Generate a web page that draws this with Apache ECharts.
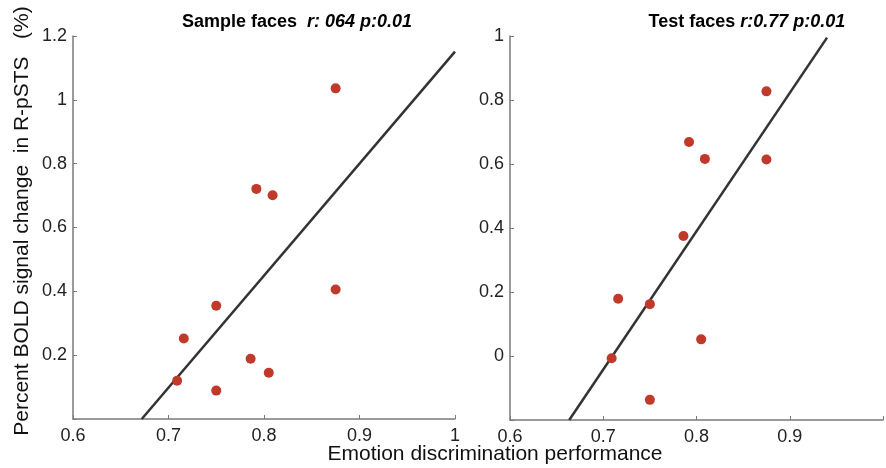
<!DOCTYPE html>
<html>
<head>
<meta charset="utf-8">
<script src="https://cdn.jsdelivr.net/npm/echarts@6/dist/echarts.min.js"></script>
<style>html,body{margin:0;padding:0;background:#fff}#c{width:886px;height:468px}</style>
</head>
<body>
<div id="c"></div>
<script>
// Shared performance values (x)
var perf = [0.709, 0.716, 0.750, 0.750, 0.786, 0.792, 0.805, 0.809, 0.875, 0.875];
// Sample faces BOLD change (left panel)
var sampleBold = [0.12, 0.252, 0.355, 0.089, 0.189, 0.721, 0.145, 0.701, 1.036, 0.406];
// Test faces BOLD change (right panel)
var testBold = [-0.007, 0.179, 0.162, -0.137, 0.375, 0.669, 0.052, 0.616, 0.827, 0.614];
// Regression line endpoints
var sampleFit = [[0.672, 0], [1.0, 1.151]];
var testFit = [[0.6635, -0.2], [0.94, 0.995]];
// Tick settings
var xTicks = {min: 0.6, max: 1.0, interval: 0.1};
var leftY = {min: 0, max: 1.2, interval: 0.2};
var rightY = {min: -0.2, max: 1.0, interval: 0.2};
var titles = {
  left: ['Sample faces  ', 'r: 064 p:0.01'],
  right: ['Test faces ', 'r:0.77 p:0.01']
};
var yName = 'Percent BOLD signal change  in R-pSTS   (%)';
var xName = 'Emotion discrimination performance';

var FONT = 'Liberation Sans, Arial, sans-serif';
function pts(xs, ys) { return xs.map(function (x, i) { return [x, ys[i]]; }); }
var axisLine = {show: true, onZero: false, lineStyle: {color: '#7a7a7a', width: 1.5}};
var axisTick = {show: true, inside: true, length: 4, lineStyle: {color: '#7a7a7a', width: 1}};
function xAxis(idx, hideMax) {
  return {type: 'value', gridIndex: idx, min: xTicks.min, max: xTicks.max, interval: xTicks.interval,
    axisLine: axisLine, axisTick: axisTick, splitLine: {show: false},
    axisLabel: {color: '#222', fontSize: 18, fontFamily: FONT, margin: 8,
      formatter: function (v) { if (hideMax && Math.abs(v - xTicks.max) < 1e-9) return ''; return String(+v.toFixed(2)); }}};
}
function yAxis(idx, cfg) {
  return {type: 'value', gridIndex: idx, min: cfg.min, max: cfg.max, interval: cfg.interval,
    axisLine: axisLine, axisTick: axisTick, splitLine: {show: false},
    axisLabel: {color: '#222', fontSize: 18, fontFamily: FONT, margin: 6,
      formatter: function (v) { if (Math.abs(v - cfg.min) < 1e-9) return ''; return String(+v.toFixed(2)); }}};
}
var rich = {
  b: {fontWeight: 'bold', fontSize: 18, fontFamily: FONT, color: '#111'},
  i: {fontWeight: 'bold', fontStyle: 'italic', fontSize: 18, fontFamily: FONT, color: '#111'}
};
var chart = echarts.init(document.getElementById('c'), null, {renderer: 'canvas'});
chart.setOption({
  animation: false,
  backgroundColor: '#fff',
  grid: [
    {left: 73, top: 36, width: 382, height: 383},
    {left: 510, top: 36, width: 380, height: 384}
  ],
  xAxis: [xAxis(0, false), xAxis(1, true)],
  yAxis: [yAxis(0, leftY), yAxis(1, rightY)],
  series: [
    {type: 'line', xAxisIndex: 0, yAxisIndex: 0, data: sampleFit, showSymbol: false, symbol: 'none',
      lineStyle: {color: '#333', width: 2.5}, clip: true, z: 2},
    {type: 'scatter', xAxisIndex: 0, yAxisIndex: 0, data: pts(perf, sampleBold), symbolSize: 10,
      itemStyle: {color: '#c0392b', opacity: 1}, z: 3},
    {type: 'line', xAxisIndex: 1, yAxisIndex: 1, data: testFit, showSymbol: false, symbol: 'none',
      lineStyle: {color: '#333', width: 2.5}, clip: true, z: 2},
    {type: 'scatter', xAxisIndex: 1, yAxisIndex: 1, data: pts(perf, testBold), symbolSize: 10,
      itemStyle: {color: '#c0392b', opacity: 1}, z: 3}
  ],
  graphic: [
    {type: 'text', x: 297, y: 22, style: {text: '{b|' + titles.left[0] + '}{i|' + titles.left[1] + '}', rich: rich,
      fontSize: 18, fontWeight: 'bold', fontFamily: FONT, textAlign: 'center', textVerticalAlign: 'middle'}},
    {type: 'text', x: 747, y: 22, style: {text: '{b|' + titles.right[0] + '}{i|' + titles.right[1] + '}', rich: rich,
      fontSize: 18, fontWeight: 'bold', fontFamily: FONT, textAlign: 'center', textVerticalAlign: 'middle'}},
    {type: 'text', x: 22, y: 221, rotation: Math.PI / 2, style: {text: yName, fontSize: 21, fontFamily: FONT,
      fill: '#111', textAlign: 'center', textVerticalAlign: 'middle'}},
    {type: 'text', x: 495, y: 454, style: {text: xName, fontSize: 21, fontFamily: FONT,
      fill: '#111', textAlign: 'center', textVerticalAlign: 'middle'}}
  ]
});
</script>
</body>
</html>
